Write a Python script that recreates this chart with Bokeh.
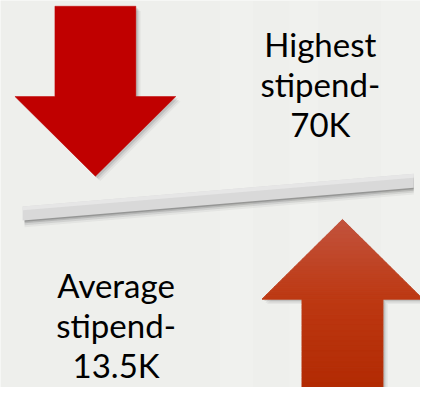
from bokeh.plotting import figure
from bokeh.models import Range1d, ColumnDataSource
from bokeh.core.properties import value
from bokeh.embed import file_html
from bokeh.resources import INLINE

# ---- data ----
stat_names = ["Highest stipend-", "Average stipend-"]
stat_values = ["70K", "13.5K"]
arrow_dirs = ["down", "up"]

BG = "#EEEFEC"
p = figure(width=420, height=387, x_range=Range1d(0, 436), y_range=Range1d(403, 0),
           output_backend="svg", toolbar_location=None, min_border=0)
p.axis.visible = False
p.grid.visible = False
p.outline_line_color = None
p.background_fill_color = BG
p.border_fill_color = BG

# subtle background texture
p.quad(left=[228, 300, 395], right=[262, 330, 436], top=[0, 0, 0], bottom=[403, 403, 403],
       fill_color="white", fill_alpha=0.15, line_color=None)


def arrow(cx, tip, base_end, direction, shaft_half=42, head_half=83.5, head_len=83):
    s = 1 if direction == "down" else -1
    hb = tip - s * head_len
    xs = [cx - shaft_half, cx + shaft_half, cx + shaft_half, cx + head_half, cx,
          cx - head_half, cx - shaft_half]
    ys = [base_end, base_end, hb, hb, tip, hb, hb]
    return xs, ys


def lerp_col(c0, c1, t):
    return "#%02x%02x%02x" % tuple(int(round(a + (b - a) * t)) for a, b in zip(c0, c1))


# arrow geometry: down arrow (highest), up arrow (average)
geo = {"down": dict(cx=98.5, tip=183, end=6), "up": dict(cx=355, tip=228, end=420)}

# shadows
for d in arrow_dirs:
    g = geo[d]
    xs, ys = arrow(g["cx"], g["tip"], g["end"], d)
    for off, a in [(5, 0.06), (3.5, 0.10), (2, 0.14)]:
        p.patch([x + off for x in xs], [y + off for y in ys], fill_color="#404040",
                fill_alpha=a, line_color=None)

# down arrow: solid red
g = geo["down"]
xs, ys = arrow(g["cx"], g["tip"], g["end"], "down")
p.patch(xs, ys, fill_color="#C00000", line_color="#C00000", line_width=0.5)

# up arrow: vertical gradient in bands
g = geo["up"]
cx, tip, end = g["cx"], g["tip"], g["end"]
head_len, head_half, shaft_half = 83, 83.5, 42
hb = tip + head_len
c_tip, c_hb, c_end = (194, 84, 62), (189, 56, 18), (176, 40, 0)
bx, by, bc = [], [], []
n_head = 20
for i in range(n_head):
    y0 = tip + head_len * i / n_head
    y1 = tip + head_len * (i + 1) / n_head
    w0 = head_half * (y0 - tip) / head_len
    w1 = head_half * (y1 - tip) / head_len
    bx.append([cx - w0, cx + w0, cx + w1, cx - w1])
    by.append([y0, y0, y1, y1])
    bc.append(lerp_col(c_tip, c_hb, (i + 0.5) / n_head))
n_shaft = 20
for i in range(n_shaft):
    y0 = hb + (end - hb) * i / n_shaft
    y1 = hb + (end - hb) * (i + 1) / n_shaft
    bx.append([cx - shaft_half, cx + shaft_half, cx + shaft_half, cx - shaft_half])
    by.append([y0, y0, y1, y1])
    bc.append(lerp_col(c_hb, c_end, (i + 0.5) / n_shaft))
p.patches(xs=bx, ys=by, fill_color=bc, line_color=bc, line_width=1)

# plank (seesaw)
lx, rx = 23, 429
ltop, rtop, thick = 214.5, 180.5, 14.5
for off, a in [(7, 0.05), (5, 0.10), (3, 0.16), (1.5, 0.24)]:
    p.patch([lx + 2, rx, rx, lx + 2], [ltop + off, rtop + off, rtop + thick + off, ltop + thick + off],
            fill_color="#303030", fill_alpha=a, line_color=None)
p.patch([lx, rx, rx, lx], [ltop, rtop, rtop + thick, ltop + thick],
        fill_color="#D9D9D9", line_color=None)
p.patch([lx, rx, rx, lx], [ltop, rtop, rtop + 4, ltop + 4],
        fill_color="#E6E6E6", line_color=None)

# texts
tx, ty, tt = [], [], []
centers = [(332, 45), (120, 296)]
for (x0, y0), name, val in zip(centers, stat_names, stat_values):
    lines = name.split(" ") + [val]
    for k, ln in enumerate(lines):
        tx.append(x0)
        ty.append(y0 + k * 42)
        tt.append(ln)
src = ColumnDataSource(dict(x=tx, y=ty, text=tt))
p.text(x="x", y="y", text="text", source=src, text_font=value("Lato"),
       text_font_size="33px", text_align="center", text_baseline="alphabetic",
       text_color="black")

open("out.html", "w").write(file_html(p, INLINE))
